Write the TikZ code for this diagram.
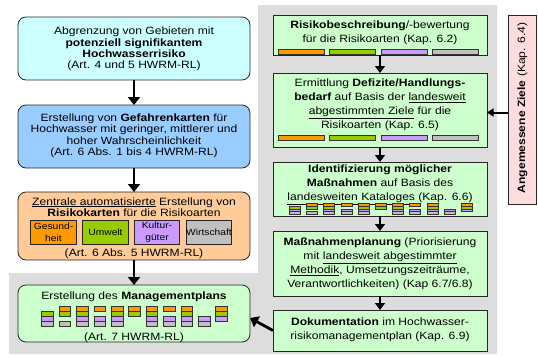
\documentclass[tikz,border=0pt]{standalone}
\usepackage{fontspec}
\setmainfont{Liberation Sans}[FakeStretch=1.14]
\usetikzlibrary{arrows.meta}
\definecolor{bgGray}{HTML}{DDDDDD}
\definecolor{cCyan}{HTML}{CCFFFF}
\definecolor{cBlue}{HTML}{99CCFF}
\definecolor{cPeach}{HTML}{FFCC99}
\definecolor{cLGreen}{HTML}{CCFFCC}
\definecolor{cPink}{HTML}{FFDDDD}
\definecolor{cOrange}{HTML}{FF9900}
\definecolor{cGreen}{HTML}{99CC00}
\definecolor{cPurple}{HTML}{CC99FF}
\definecolor{cGray}{HTML}{C0C0C0}
\newcommand\mycell[5]{\filldraw[fill=#5, draw=black!80, line width=0.6pt] (#1,#2) rectangle ++(#3,#4);}
\begin{document}
\begin{tikzpicture}[x=1pt,y=-1pt,
  box/.style={draw=black!85, line width=0.8pt, inner sep=0pt, outer sep=0pt},
  lbox/.style={box, rounded corners=8pt},
  rbox/.style={box, fill=cLGreen, minimum width=214pt},
  inbox/.style={box, minimum width=45.5pt, minimum height=24pt, align=center, font=\fontsize{9}{12}\selectfont},
  tl/.style={align=center, inner sep=0pt, font=\fontsize{10.6}{11.4}\selectfont},
  tr/.style={align=center, inner sep=0pt, font=\fontsize{10.6}{14}\selectfont},
  arrL/.style={line width=2.8pt, -{Triangle[length=8pt,width=12pt]}},
  arrR/.style={line width=2.6pt, -{Triangle[length=7pt,width=10pt]}},
  arrP/.style={line width=2pt, -{Triangle[length=6.5pt,width=8pt]}},
]
\useasboundingbox (0,0) rectangle (538,356);
% gray background
\fill[bgGray] (258,5) -- (497,5) -- (497,354) -- (9,354) -- (9,273) -- (258,273) -- cycle;

% left column
\node[lbox, fill=cCyan, minimum width=232pt, minimum height=63pt] (b1) at (134,48.5) {};
\node[lbox, fill=cBlue, minimum width=232pt, minimum height=63pt] (b2) at (134,136.5) {};
\node[lbox, fill=cPeach, minimum width=232pt, minimum height=68pt] (b3) at (134,226) {};
\node[lbox, fill=cLGreen, minimum width=232pt, minimum height=57pt] (b4) at (134,313.5) {};

\node[tl] (b1t) at (134,49) {Abgrenzung von Gebieten mit\\\textbf{potenziell signifikantem}\\\textbf{Hochwasserrisiko}\\(Art. 4 und 5 HWRM-RL)};
\node[tl] (b2t) at (134,135.7) {Erstellung von \textbf{Gefahrenkarten} für\\Hochwasser mit geringer, mittlerer und\\hoher Wahrscheinlichkeit\\(Art. 6 Abs. 1 bis 4 HWRM-RL)};
\node[tl] (b3t) at (134,207) {\underline{Zentrale automatisierte} Erstellung von\\\textbf{Risikokarten} für die Risikoarten};
\node[tl] (b3b) at (134,253.8) {(Art. 6 Abs. 5 HWRM-RL)};
\node[inbox, fill=cOrange] (i1) at (53.5,232) {Gesund-\\heit};
\node[inbox, fill=cGreen] (i2) at (105.5,232) {Umwelt};
\node[inbox, fill=cPurple] (i3) at (157,232) {Kultur-\\güter};
\node[inbox, fill=cGray] (i4) at (209,232) {Wirtschaft};

\node[tl] (b4t) at (134,296.8) {Erstellung des \textbf{Managementplans}};
\node[tl] (b4b) at (134,337.5) {(Art. 7 HWRM-RL)};

% right column
\node[rbox, minimum height=40pt] (r1) at (380,35) {};
\node[rbox, minimum height=74pt] (r2) at (380,110) {};
\node[rbox, minimum height=54pt] (r3) at (380,189) {};
\node[rbox, minimum height=65pt] (r4) at (380,263.5) {};
\node[rbox, minimum height=41pt] (r5) at (380,330.5) {};
\node[box, fill=cPink, minimum width=28pt, minimum height=189pt] (pk) at (522,109.5) {};

\node[tr] (r1t) at (380,32.4) {\textbf{Risikobeschreibung}/-bewertung\\für die Risikoarten (Kap. 6.2)};
\node[tr] (r2t) at (380,104.7) {Ermittlung \textbf{Defizite/Handlungs-}\\\textbf{bedarf} auf Basis der \underline{landesweit}\\\underline{abgestimmten Ziele} für die\\Risikoarten (Kap. 6.5)};
\node[tr] (r3t) at (380,184.7) {\textbf{Identifizierung möglicher}\\\textbf{Maßnahmen} auf Basis des\\\underline{landesweiten Kataloges} (Kap. 6.6)};
\node[tr] (r4t) at (380,264.2) {\textbf{Maßnahmenplanung} (Priorisierung\\mit \underline{landesweit abgestimmter}\\\underline{Methodik}, Umsetzungszeiträume,\\Verantwortlichkeiten) (Kap 6.7/6.8)};
\node[tr] (r5t) at (380,329.7) {\textbf{Dokumentation} im Hochwasser-\\risikomanagementplan (Kap. 6.9)};
\node[tr, rotate=90] (pkt) at (522.5,108) {\textbf{Angemessene Ziele} (Kap. 6.4)};

% bars in r1 and r2
\foreach \k/\c in {0/cOrange,1/cGreen,2/cPurple,3/cGray} {
  \pgfmathsetmacro\xx{278+51.5*\k}
  \mycell{\xx}{49}{46}{5}{\c}
  \mycell{\xx}{135}{46}{5}{\c}
}

% stacks in b4 and r3
\foreach \i/\a/\b/\c/\d in {0/0/1/1/1,1/1/1/0/1,2/1/1/1/1,3/1/0/1/1,4/1/1/1/1,5/1/1/0/0,6/1/1/1/1,7/1/0/1/1,8/1/1/1/1,9/0/0/1/1,10/1/1/1/0} {
  \pgfmathsetmacro\xa{41.7+17.4*\i}
  \pgfmathsetmacro\xb{289.3+17.2*\i}
  \ifnum\a=1 \mycell{\xa}{306}{11.6}{5}{cOrange}\mycell{\xb}{203.5}{11}{2.75}{cOrange}\fi
  \ifnum\b=1 \mycell{\xa}{311}{11.6}{5}{cGreen}\mycell{\xb}{206.25}{11}{2.75}{cGreen}\fi
  \ifnum\c=1 \mycell{\xa}{316}{11.6}{5}{cPurple}\mycell{\xb}{209}{11}{2.75}{cPurple}\fi
  \ifnum\d=1 \mycell{\xa}{321}{11.6}{5}{cGray}\mycell{\xb}{211.75}{11}{2.75}{cGray}\fi
}

% arrows
\draw[arrL] (b1.south) -- (b2.north);
\draw[arrL] (b2.south) -- (b3.north);
\draw[arrL] (b3.south) -- (b4.north);
\draw[arrR] (r1.south) -- (r2.north);
\draw[arrR] (r2.south) -- (r3.north);
\draw[arrR] (r3.south) -- (r4.north);
\draw[arrR] (r4.south) -- (r5.north);
\draw[arrP] ([yshift=-3pt]pk.west) -- ([yshift=-3pt]pk.west -| r2.east);
\draw[arrL] (r5.west) -- ([yshift=-4.5pt]b4.east);
\end{tikzpicture}
\end{document}
